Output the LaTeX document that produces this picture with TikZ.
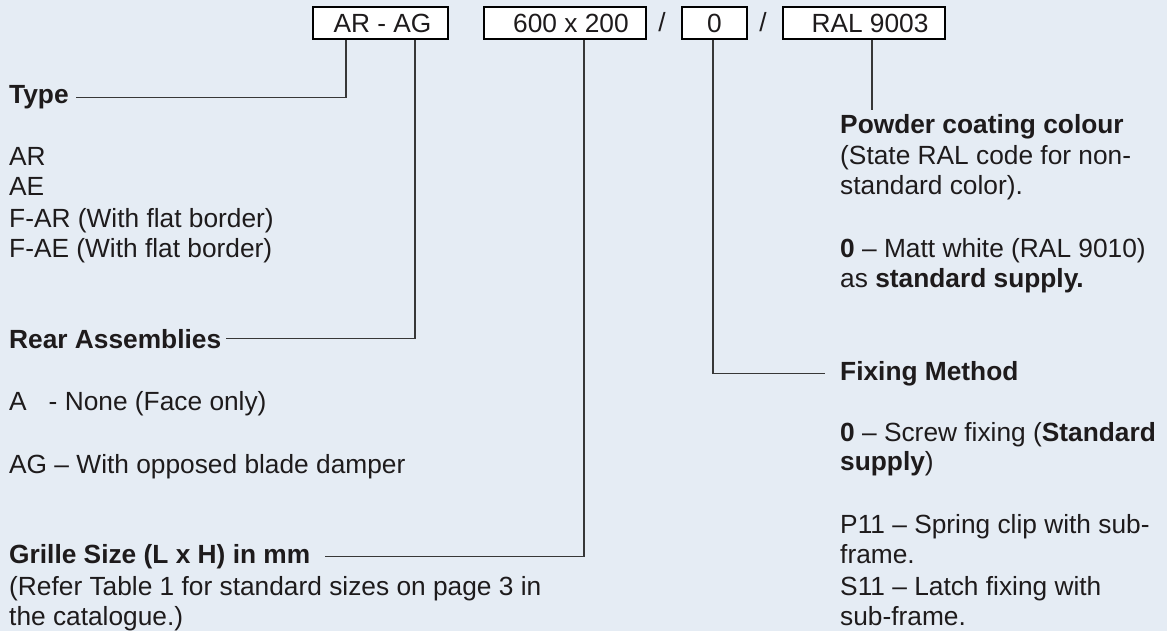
\documentclass[tikz,border=0pt]{standalone}
\usepackage{fontspec}
\setmainfont{Liberation Sans}
\definecolor{bg}{RGB}{229,236,244}
\definecolor{ink}{RGB}{30,27,28}
\definecolor{wire}{RGB}{55,55,55}
\begin{document}
\begin{tikzpicture}[x=1pt,y=-1pt,
  txt/.style={anchor=base west, inner sep=0pt, text=ink, font=\fontsize{26.3}{30.5}\selectfont},
  hd/.style={txt, font=\fontsize{26.3}{30.5}\selectfont\bfseries},
  codebox/.style={draw=black, line width=2pt, fill=white, minimum height=32pt, inner sep=0pt, text=ink, font=\fontsize{26.3}{30.5}\selectfont},
  conn/.style={draw=wire, line width=1.2pt}]
\fill[bg] (0,0) rectangle (1167,631);
\useasboundingbox (0,0) rectangle (1167,631);

% code boxes
\node[codebox, minimum width=135pt] (b1) at (380.5,23) {\hspace{4pt}AR - AG};
\node[codebox, minimum width=162pt] (b2) at (565,23) {\hspace{12pt}600 x 200};
\node[codebox, minimum width=65pt] (b3) at (714.5,23) {0\hspace{6pt}};
\node[codebox, minimum width=162pt] (b4) at (864,23) {\hspace{12pt}RAL 9003};
\node[txt, anchor=base] (s1) at (662,32) {/};
\node[txt, anchor=base] (s2) at (763,32) {/};

% left column
\node[hd] (type) at (9,104) {Type};
\node[txt] (t1) at (9,166) {AR};
\node[txt] (t2) at (9,196) {AE};
\node[txt] (t3) at (9,227) {F-AR (With flat border)};
\node[txt] (t4) at (9,257) {F-AE (With flat border)};

\node[hd] (rear) at (9,348) {Rear Assemblies};
\node[txt] (r1) at (9,410) {A\hspace{22pt}- None (Face only)};
\node[txt] (r2) at (9,473) {AG – With opposed blade damper};

\node[hd] (grille) at (9,563) {Grille Size (L x H) in mm};
\node[txt] (g1) at (9,595) {(Refer Table 1 for standard sizes on page 3 in};
\node[txt] (g2) at (9,625) {the catalogue.)};

% right column
\node[hd] (powder) at (840,134) {Powder coating colour};
\node[txt] (p1) at (840,165) {(State RAL code for non-};
\node[txt] (p2) at (840,195) {standard color).};
\node[txt] (p3) at (840,258) {\textbf{0} – Matt white (RAL 9010)};
\node[txt] (p4) at (840,287) {as \textbf{standard supply.}};

\node[hd] (fixing) at (840,380) {Fixing Method};
\node[txt] (f1) at (840,441) {\textbf{0} – Screw fixing (\textbf{Standard}};
\node[txt] (f2) at (840,470) {\textbf{supply})};
\node[txt] (f3) at (840,533) {P11 – Spring clip with sub-};
\node[txt] (f4) at (840,563) {frame.};
\node[txt] (f5) at (840,595) {S11 – Latch fixing with};
\node[txt] (f6) at (840,625) {sub-frame.};

% connectors
\draw[conn] (346,0 |- b1.south) |- ([xshift=7pt]type.east);
\draw[conn] (415,0 |- b1.south) |- ([xshift=5pt]rear.east);
\draw[conn] (584,0 |- b2.south) |- ([xshift=15pt]grille.east);
\draw[conn] (713,0 |- b3.south) |- ([xshift=-15pt]fixing.west);
\draw[conn] (872,0 |- b4.south) -- ([yshift=5pt]872,0 |- powder.north);
\end{tikzpicture}
\end{document}
